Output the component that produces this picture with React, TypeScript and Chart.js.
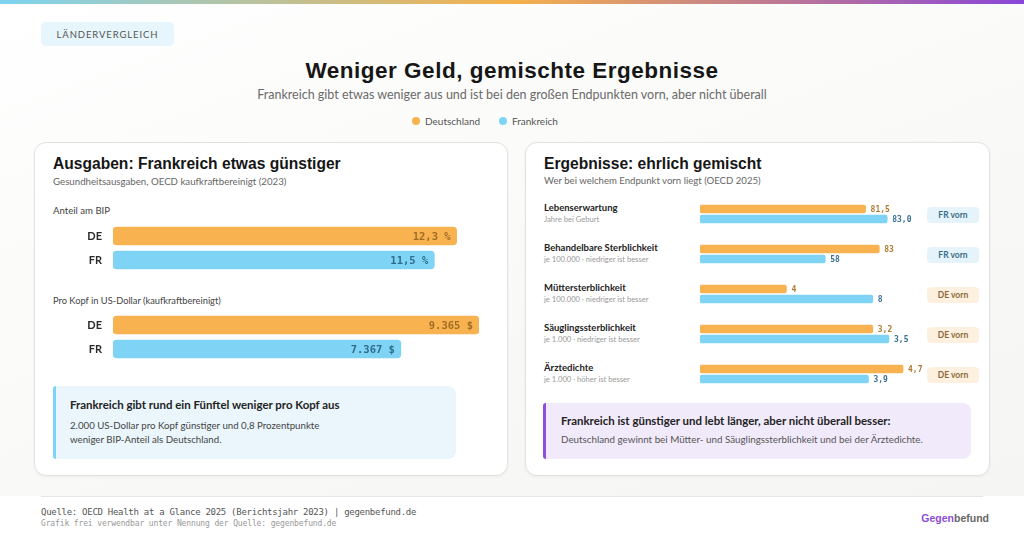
import React, { useEffect, useRef } from "react";
import { Chart, registerables } from "chart.js";

Chart.register(...registerables);

// ---------- Data ----------
const COUNTRIES = ["DE", "FR"];
const LEGEND_NAMES = ["Deutschland", "Frankreich"];

const BIP_SHARE = [12.3, 11.5]; // % of GDP
const PER_CAPITA = [9365, 7367]; // US-Dollar PPP

const OUTCOME_NAMES = [
  "Lebenserwartung",
  "Behandelbare Sterblichkeit",
  "Müttersterblichkeit",
  "Säuglingssterblichkeit",
  "Ärztedichte",
];
const OUTCOME_NOTES = [
  "Jahre bei Geburt",
  "je 100.000 · niedriger ist besser",
  "je 100.000 · niedriger ist besser",
  "je 1.000 · niedriger ist besser",
  "je 1.000 · höher ist besser",
];
const OUTCOME_DE = [81.5, 83, 4, 3.2, 4.7];
const OUTCOME_FR = [83.0, 58, 8, 3.5, 3.9];
const OUTCOME_DECIMALS = [1, 0, 0, 1, 1];
const OUTCOME_AXIS_MIN = [70, 0, 0, 0, 0];
const OUTCOME_AXIS_MAX = [85, 100, 10, 4, 5];
const OUTCOME_LEADER = ["FR", "FR", "DE", "DE", "DE"];

// ---------- Style ----------
const ORANGE = "#f8b24f";
const BLUE = "#7fd4f6";
const ORANGE_TEXT = "#a06d26";
const BLUE_TEXT = "#2f6c8a";
const SANS = "Lato, 'Noto Sans', sans-serif";
const HEAD = "'Liberation Sans', Arial, sans-serif";
const MONO = "'DejaVu Sans Mono', 'Liberation Mono', monospace";

const fmtComma = (v: number, d: number) => v.toFixed(d).replace(".", ",");
const fmtThousands = (v: number) =>
  String(Math.round(v)).replace(/\B(?=(\d{3})+(?!\d))/g, ".");

const BASE_K: Record<string, number> = { sans: 0.887, head: 0.8465, mono: 0.846 };

function T(props: {
  x: number;
  y: number;
  size: number;
  fam?: "sans" | "head" | "mono";
  weight?: number | string;
  color?: string;
  align?: "left" | "center" | "right";
  ls?: number;
  children: React.ReactNode;
}) {
  const fam = props.fam || "sans";
  const family = fam === "sans" ? SANS : fam === "head" ? HEAD : MONO;
  const top = props.y - BASE_K[fam] * props.size;
  const style: React.CSSProperties = {
    position: "absolute",
    top,
    fontFamily: family,
    fontSize: props.size,
    fontWeight: props.weight ?? 400,
    color: props.color ?? "#333",
    lineHeight: 1,
    whiteSpace: "nowrap",
    letterSpacing: props.ls ?? 0,
  };
  if (props.align === "center") {
    style.left = props.x;
    style.transform = "translateX(-50%)";
  } else if (props.align === "right") {
    style.right = 1024 - props.x;
  } else {
    style.left = props.x;
  }
  return <div style={style}>{props.children}</div>;
}

type BarChartProps = {
  left: number;
  top: number;
  width: number;
  height: number;
  values: number[];
  min: number;
  max: number;
  thickness: number;
  radius: number;
  showAxis: boolean;
  padRight: number;
  inside: boolean;
  labelFont: string;
  labelColors: string[];
  labelOffset: number;
  format: (v: number) => string;
};

function BarChart(p: BarChartProps) {
  const ref = useRef<HTMLCanvasElement | null>(null);
  useEffect(() => {
    if (!ref.current) return;
    const labelPlugin = {
      id: "valueLabels",
      afterDatasetsDraw(chart: any) {
        const ctx = chart.ctx;
        const meta = chart.getDatasetMeta(0);
        const data = chart.data.datasets[0].data as number[];
        ctx.save();
        ctx.font = p.labelFont;
        ctx.textBaseline = "middle";
        meta.data.forEach((el: any, i: number) => {
          ctx.fillStyle = p.labelColors[i];
          const text = p.format(data[i]);
          if (p.inside) {
            ctx.textAlign = "right";
            ctx.fillText(text, el.x - p.labelOffset, el.y + 1);
          } else {
            ctx.textAlign = "left";
            ctx.fillText(text, el.x + p.labelOffset, el.y + 1);
          }
        });
        ctx.restore();
      },
    };
    const chart = new Chart(ref.current, {
      type: "bar",
      data: {
        labels: COUNTRIES,
        datasets: [
          {
            data: p.values,
            backgroundColor: [ORANGE, BLUE],
            barThickness: p.thickness,
            borderRadius: p.radius,
            borderSkipped: false,
            base: p.min,
          } as any,
        ],
      },
      options: {
        indexAxis: "y",
        animation: false,
        responsive: false,
        maintainAspectRatio: false,
        events: [],
        layout: { autoPadding: false, padding: { left: 0, right: p.padRight, top: 0, bottom: 0 } },
        plugins: { legend: { display: false }, tooltip: { enabled: false } },
        scales: {
          x: { display: false, min: p.min, max: p.max },
          y: {
            display: p.showAxis,
            grid: { display: false, drawTicks: false },
            border: { display: false },
            ticks: {
              color: "#2a2a2a",
              font: { family: "Lato", weight: "bold", size: 11 },
              padding: 11,
            },
            afterFit: (s: any) => {
              s.width = p.showAxis ? 38 : 0;
              s.paddingTop = 0;
              s.paddingBottom = 0;
            },
          },
        },
      } as any,
      plugins: [labelPlugin],
    });
    return () => chart.destroy();
  }, []);
  return (
    <canvas
      ref={ref}
      width={p.width}
      height={p.height}
      style={{ position: "absolute", left: p.left, top: p.top, width: p.width, height: p.height }}
    />
  );
}

function Panel(props: { left: number; width: number }) {
  return (
    <div
      style={{
        position: "absolute",
        left: props.left,
        top: 142,
        width: props.width,
        height: 334,
        boxSizing: "border-box",
        background: "#ffffff",
        border: "1px solid #e2e2df",
        borderRadius: 12,
        boxShadow: "0 1px 3px rgba(0,0,0,0.05)",
      }}
    />
  );
}

export default function App() {
  return (
    <div
      style={{
        position: "absolute",
        left: 0,
        top: 0,
        width: 1024,
        height: 538,
        overflow: "hidden",
        background: "linear-gradient(160deg, #ffffff 0%, #f8f8f6 60%, #f5f5f3 100%)",
      }}
    >
      {/* top gradient bar */}
      <div
        style={{
          position: "absolute",
          left: 0,
          top: 0,
          width: 1024,
          height: 4,
          background: "linear-gradient(90deg, #7dd3f0 0%, #f5b14c 50%, #8a45d8 100%)",
        }}
      />
      {/* tag */}
      <div
        style={{
          position: "absolute",
          left: 41,
          top: 22,
          width: 133,
          height: 24,
          background: "#e7f5fc",
          borderRadius: 5,
        }}
      />
      <T x={107.5} y={38.5} size={9.5} align="center" color="#555" ls={0.9} weight={400}>
        LÄNDERVERGLEICH
      </T>

      {/* title */}
      <T x={512} y={79} size={22.5} fam="head" weight={700} color="#161616" align="center" ls={0.5}>
        Weniger Geld, gemischte Ergebnisse
      </T>
      <T x={512} y={100} size={12.5} color="#6a6a6a" align="center">
        Frankreich gibt etwas weniger aus und ist bei den großen Endpunkten vorn, aber nicht überall
      </T>

      {/* legend */}
      {[0, 1].map((i) => (
        <React.Fragment key={i}>
          <div
            style={{
              position: "absolute",
              left: (i === 0 ? 416 : 503) - 4,
              top: 117,
              width: 8,
              height: 8,
              borderRadius: 4,
              background: i === 0 ? ORANGE : BLUE,
            }}
          />
          <T x={i === 0 ? 425 : 512} y={124.5} size={10} color="#555">
            {LEGEND_NAMES[i]}
          </T>
        </React.Fragment>
      ))}

      {/* Left panel */}
      <Panel left={34} width={474} />
      <T x={53} y={169.5} size={15.6} fam="head" weight={700} color="#161616">
        Ausgaben: Frankreich etwas günstiger
      </T>
      <T x={53} y={185.5} size={9.7} color="#666">
        Gesundheitsausgaben, OECD kaufkraftbereinigt (2023)
      </T>
      <T x={53} y={215} size={9.6} color="#444">
        Anteil am BIP
      </T>
      <BarChart
        left={75}
        top={224}
        width={404}
        height={48}
        values={BIP_SHARE}
        min={0}
        max={13.1}
        thickness={18}
        radius={4}
        showAxis={true}
        padRight={0}
        inside={true}
        labelFont={`bold 10.5px ${MONO}`}
        labelColors={[ORANGE_TEXT, BLUE_TEXT]}
        labelOffset={6}
        format={(v) => `${fmtComma(v, 1)} %`}
      />
      <T x={53} y={304} size={9.3} color="#444">
        Pro Kopf in US-Dollar (kaufkraftbereinigt)
      </T>
      <BarChart
        left={75}
        top={313}
        width={404}
        height={48}
        values={PER_CAPITA}
        min={0}
        max={9365}
        thickness={18}
        radius={4}
        showAxis={true}
        padRight={0}
        inside={true}
        labelFont={`bold 10.5px ${MONO}`}
        labelColors={[ORANGE_TEXT, BLUE_TEXT]}
        labelOffset={6}
        format={(v) => `${fmtThousands(v)} $`}
      />
      <div
        style={{
          position: "absolute",
          left: 53,
          top: 386,
          width: 403,
          height: 73,
          boxSizing: "border-box",
          background: "#eaf6fc",
          borderLeft: "3px solid #7dd3f5",
          borderRadius: "3px 8px 8px 3px",
        }}
      />
      <T x={70} y={409.5} size={11.45} weight={700} color="#222">
        Frankreich gibt rund ein Fünftel weniger pro Kopf aus
      </T>
      <T x={70} y={430} size={9.7} color="#444">
        2.000 US-Dollar pro Kopf günstiger und 0,8 Prozentpunkte
      </T>
      <T x={70} y={443.3} size={9.7} color="#444">
        weniger BIP-Anteil als Deutschland.
      </T>

      {/* Right panel */}
      <Panel left={525} width={465} />
      <T x={544} y={169.5} size={15.6} fam="head" weight={700} color="#161616">
        Ergebnisse: ehrlich gemischt
      </T>
      <T x={544} y={185} size={9.6} color="#666">
        Wer bei welchem Endpunkt vorn liegt (OECD 2025)
      </T>
      {OUTCOME_NAMES.map((name, i) => {
        const dy = 40 * i;
        const fr = OUTCOME_LEADER[i] === "FR";
        return (
          <React.Fragment key={name}>
            <T x={544} y={211 + dy} size={9.5} weight={700} color="#222">
              {name}
            </T>
            <T x={544} y={223 + dy} size={7.6} color="#999">
              {OUTCOME_NOTES[i]}
            </T>
            <BarChart
              left={700}
              top={204 + dy}
              width={226}
              height={20}
              values={[OUTCOME_DE[i], OUTCOME_FR[i]]}
              min={OUTCOME_AXIS_MIN[i]}
              max={OUTCOME_AXIS_MAX[i]}
              thickness={8}
              radius={2}
              showAxis={false}
              padRight={10}
              inside={false}
              labelFont={`bold 8px ${MONO}`}
              labelColors={["#ad7a30", "#3a7090"]}
              labelOffset={5}
              format={(v) => fmtComma(v, OUTCOME_DECIMALS[i])}
            />
            <div
              style={{
                position: "absolute",
                left: 927,
                top: 207 + dy,
                width: 52,
                height: 16,
                borderRadius: 4,
                background: fr ? "#e5f4fb" : "#fdf0df",
              }}
            />
            <T x={953} y={218.3 + dy} size={8.5} weight={700} color={fr ? "#3b6d88" : "#8a6a3c"} align="center">
              {fr ? "FR vorn" : "DE vorn"}
            </T>
          </React.Fragment>
        );
      })}
      <div
        style={{
          position: "absolute",
          left: 543,
          top: 403,
          width: 428,
          height: 56,
          boxSizing: "border-box",
          background: "#f1eafb",
          borderLeft: "3px solid #8b4fd8",
          borderRadius: "3px 8px 8px 3px",
        }}
      />
      <T x={561} y={425} size={11.45} weight={700} color="#222">
        Frankreich ist günstiger und lebt länger, aber nicht überall besser:
      </T>
      <T x={561} y={444} size={9.8} color="#555">
        Deutschland gewinnt bei Mütter- und Säuglingssterblichkeit und bei der Ärztedichte.
      </T>

      {/* Footer */}
      <div style={{ position: "absolute", left: 0, top: 496, width: 1024, height: 42, background: "#ffffff" }} />
      <div style={{ position: "absolute", left: 41, top: 496, width: 942, height: 1, background: "#e6e6e4" }} />
      <T x={41} y={515.7} size={9} fam="mono" color="#555" ls={-0.28}>
        Quelle: OECD Health at a Glance 2025 (Berichtsjahr 2023) | gegenbefund.de
      </T>
      <T x={41} y={526.7} size={8} fam="mono" color="#999" ls={-0.13}>
        Grafik frei verwendbar unter Nennung der Quelle: gegenbefund.de
      </T>
      <T x={989} y={521.7} size={10.5} fam="head" weight={700} color="#666" align="right">
        <span style={{ color: "#8b4fd8" }}>Gegen</span>befund
      </T>
    </div>
  );
}
